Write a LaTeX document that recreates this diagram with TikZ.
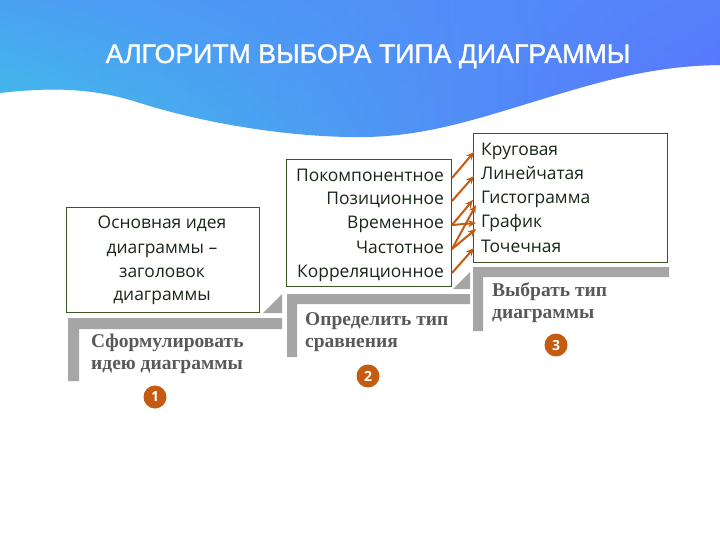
\documentclass[tikz,border=0pt]{standalone}
\usepackage{fontspec}
\setmainfont{Open Sans}
\newfontfamily\titlefont[FakeBold=1.2]{Liberation Sans}
\newfontfamily\stepfont{Liberation Serif}
\usetikzlibrary{arrows.meta,calc,fadings}
\definecolor{waveleft}{RGB}{64,194,232}
\definecolor{wavemid}{RGB}{72,168,240}
\definecolor{waveright}{RGB}{92,112,255}
\definecolor{waveover}{RGB}{82,140,250}
\definecolor{boxline}{RGB}{56,87,35}
\definecolor{boxtext}{RGB}{24,38,24}
\definecolor{stepgray}{RGB}{166,166,166}
\definecolor{steptext}{RGB}{89,89,89}
\definecolor{accent}{RGB}{197,90,17}
\begin{document}
\begin{tikzpicture}[x=1pt,y=-1pt,
  box/.style={draw=boxline, line width=1pt, inner sep=0pt, anchor=north west},
  boxtxt/.style={text=boxtext, font=\fontsize{17.4}{20}\selectfont, inner sep=0pt, text height=11pt, text depth=3pt},
  steplbl/.style={text=steptext, font=\stepfont\bfseries\fontsize{19.5}{22}\selectfont, inner sep=0pt, anchor=base west},
  num/.style={circle, fill=accent, text=white, minimum size=23pt, inner sep=0pt, font=\bfseries\fontsize{14}{14}\selectfont},
  arr/.style={draw=accent, line width=2pt, -{Stealth[length=8pt,width=7pt]}}]
\useasboundingbox (0,0) rectangle (720,540);
\fill[white] (0,0) rectangle (720,540);
% wave background
\begin{scope}
\clip (0,0) -- (720,0) -- (720,65) .. controls (640,66) and (580,88) .. (500,112)
  .. controls (440,130) and (400,138) .. (350,137)
  .. controls (280,136) and (200,122) .. (140,103)
  .. controls (100,90) and (60,86) .. (0,93) -- cycle;
\shade[left color=waveleft, middle color=wavemid, right color=waveright] (0,0) rectangle (720,140);
\fill[waveover, opacity=0.6, path fading=south] (0,0) rectangle (720,140);
\end{scope}
\node[text=white, font=\titlefont\fontsize{26.7}{32}\selectfont, inner sep=0pt, anchor=base] (title) at (368,63) {АЛГОРИТМ ВЫБОРА ТИПА ДИАГРАММЫ};
% steps
\fill[stepgray] (68,318) -- (282,318) -- (282,329) -- (79,329) -- (79,381) -- (68,381) -- cycle;
\fill[stepgray] (263,313) -- (282,313) -- (282,294) -- cycle;
\fill[stepgray] (287,294) -- (470,294) -- (470,304) -- (297,304) -- (297,357) -- (287,357) -- cycle;
\fill[stepgray] (453,289) -- (470,289) -- (470,272) -- cycle;
\fill[stepgray] (473,267) -- (669,267) -- (669,277) -- (483,277) -- (483,331) -- (473,331) -- cycle;
\node[steplbl] (s1a) at (91,347) {Сформулировать};
\node[steplbl] (s1b) at (91,369) {идею диаграммы};
\node[steplbl] (s2a) at (305,325) {Определить тип};
\node[steplbl] (s2b) at (305,347) {сравнения};
\node[steplbl] (s3a) at (492,296) {Выбрать тип};
\node[steplbl] (s3b) at (492,318) {диаграммы};
\node[num] (c1) at (155,397) {1};
\node[num] (c2) at (368,376) {2};
\node[num] (c3) at (556,345) {3};
% boxes
\node[box, minimum width=193pt, minimum height=105pt] (b1) at (66,207) {};
\node[box, minimum width=165pt, minimum height=127pt] (b2) at (286,159) {};
\node[box, minimum width=194pt, minimum height=129pt] (b3) at (473,133) {};
\node[boxtxt, anchor=base] (i1) at (162,229) {Основная идея};
\node[boxtxt, anchor=base] (i2) at (162,253) {диаграммы –};
\node[boxtxt, anchor=base] (i3) at (162,277) {заголовок};
\node[boxtxt, anchor=base] (i4) at (162,300) {диаграммы};
\node[boxtxt, anchor=base east] (p1) at (444,182) {Покомпонентное};
\node[boxtxt, anchor=base east] (p2) at (444,205) {Позиционное};
\node[boxtxt, anchor=base east] (p3) at (444,229) {Временное};
\node[boxtxt, anchor=base east] (p4) at (444,253) {Частотное};
\node[boxtxt, anchor=base east] (p5) at (444,277) {Корреляционное};
\node[boxtxt, anchor=base west] (k1) at (481,156) {Круговая};
\node[boxtxt, anchor=base west] (k2) at (481,180) {Линейчатая};
\node[boxtxt, anchor=base west] (k3) at (481,204) {Гистограмма};
\node[boxtxt, anchor=base west] (k4) at (481,228) {График};
\node[boxtxt, anchor=base west] (k5) at (481,252) {Точечная};
% arrows
\draw[arr] (b2.east |- p1) -- ($(b3.west |- k1)+(1,0)$);
\draw[arr] (b2.east |- p2) -- ($(b3.west |- k2)+(1,0)$);
\draw[arr] (b2.east |- p3) -- ($(b3.west |- k3)+(0,0)$);
\draw[arr] (b2.east |- p3) -- ($(b3.west |- k4)+(3,-1)$);
\draw[arr] (b2.east |- p4) -- ($(b3.west |- k3)+(3,5)$);
\draw[arr] (b2.east |- p4) -- ($(b3.west |- k4)+(3,5)$);
\draw[arr] (b2.east |- p5) -- ($(b3.west |- k5)+(1,0)$);
\end{tikzpicture}
\end{document}
